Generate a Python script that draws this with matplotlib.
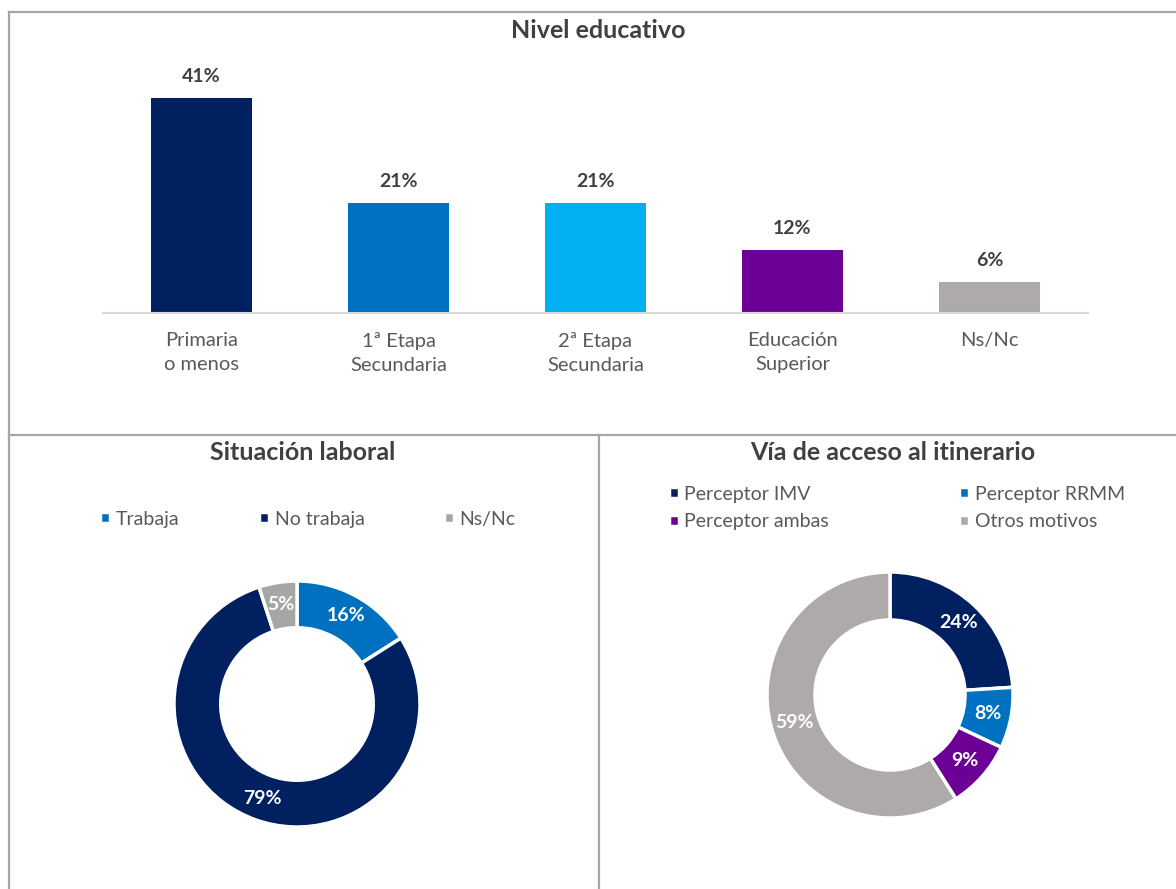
import matplotlib.pyplot as plt
from matplotlib.lines import Line2D

# ------------------------------------------------------------
# Datos
# ------------------------------------------------------------
nivel_cats = ["Primaria\no menos", "1ª Etapa\nSecundaria", "2ª Etapa\nSecundaria",
              "Educación\nSuperior", "Ns/Nc"]
nivel_vals = [41, 21, 21, 12, 6]
nivel_colors = ["#002060", "#0070C0", "#00B0F0", "#6C0096", "#AEAAAA"]

laboral_cats = ["Trabaja", "No trabaja", "Ns/Nc"]
laboral_vals = [16, 79, 5]
laboral_colors = ["#0070C0", "#002060", "#A6A6A6"]

acceso_cats = ["Perceptor IMV", "Perceptor RRMM", "Perceptor ambas", "Otros motivos"]
acceso_vals = [24, 8, 9, 59]
acceso_colors = ["#002060", "#0070C0", "#6C0096", "#AEAAAA"]

W, H = 1176, 889
DARK = "#404040"
GREY = "#595959"
BORDER = "#A6A6A6"

plt.rcParams["font.family"] = ["Lato", "DejaVu Sans"]


def px_box(x0, y0, x1, y1):
    """Caja en píxeles (desde arriba a la izquierda) -> coords de figura."""
    return [x0 / W, 1 - y1 / H, (x1 - x0) / W, (y1 - y0) / H]


def fx(x):
    return x / W


def fy(y):
    return 1 - y / H


def pct(p):
    return f"{round(p)}%"


fig = plt.figure(figsize=(W / 100, H / 100), dpi=100)

# ------------------------------------------------------------
# Marcos
# ------------------------------------------------------------
for (x0, y0, x1, y1) in [(9, 12, W, 12), (9, 12, 9, H), (9, 435, W, 435), (599, 435, 599, H)]:
    fig.add_artist(Line2D([fx(x0), fx(x1)], [fy(y0), fy(y1)], color=BORDER, lw=1.6))

# ------------------------------------------------------------
# Nivel educativo
# ------------------------------------------------------------
ax = fig.add_axes(px_box(103, 40, 1088, 313))
x = range(len(nivel_vals))
bars = ax.bar(x, nivel_vals, width=0.51, color=nivel_colors)
ax.set_xlim(-0.5, len(nivel_vals) - 0.5)
ax.set_ylim(0, 52)
for b, v in zip(bars, nivel_vals):
    ax.annotate(f"{v}%", (b.get_x() + b.get_width() / 2, v), xytext=(0, 9),
                textcoords="offset points", ha="center", va="bottom",
                fontsize=14, fontweight="bold", color=DARK)
ax.set_xticks(list(x))
ax.set_xticklabels(nivel_cats, fontsize=14.5, color=GREY, linespacing=1.5)
ax.tick_params(axis="x", length=0, pad=14)
ax.set_yticks([])
for s in ["top", "left", "right"]:
    ax.spines[s].set_visible(False)
ax.spines["bottom"].set_color("#D9D9D9")
ax.spines["bottom"].set_linewidth(1.5)
fig.text(fx(598), fy(30), "Nivel educativo", ha="center", va="center",
         fontsize=18, fontweight="bold", color=DARK)

# ------------------------------------------------------------
# Situación laboral
# ------------------------------------------------------------
fig.text(fx(303), fy(452), "Situación laboral", ha="center", va="center",
         fontsize=18, fontweight="bold", color=DARK)
ax1 = fig.add_axes(px_box(297 - 123, 704 - 123, 297 + 123, 704 + 123))
w1, t1, a1 = ax1.pie(laboral_vals, colors=laboral_colors, startangle=90, counterclock=False,
                     radius=1, autopct=pct, pctdistance=0.82,
                     wedgeprops=dict(width=0.38, edgecolor="white", linewidth=2.5),
                     textprops=dict(color="white", fontsize=14, fontweight="bold"))
for t in t1:
    t.set_text("")
ax1.set_xlim(-1, 1)
ax1.set_ylim(-1, 1)
ax1.set_aspect("equal")
ax1.axis("off")
fig.legend(w1, laboral_cats, loc="center", bbox_to_anchor=(fx(308), fy(519)), ncol=3,
           frameon=False, fontsize=14, labelcolor=GREY, handlelength=0.5,
           handleheight=0.5, handletextpad=0.3, columnspacing=4.1)

# ------------------------------------------------------------
# Vía de acceso al itinerario
# ------------------------------------------------------------
fig.text(fx(893), fy(452), "Vía de acceso al itinerario", ha="center", va="center",
         fontsize=18, fontweight="bold", color=DARK)
ax2 = fig.add_axes(px_box(890 - 123, 695 - 123, 890 + 123, 695 + 123))
w2, t2, a2 = ax2.pie(acceso_vals, colors=acceso_colors, startangle=90, counterclock=False,
                     radius=1, autopct=pct, pctdistance=0.81,
                     wedgeprops=dict(width=0.39, edgecolor="white", linewidth=2.5),
                     textprops=dict(color="white", fontsize=14, fontweight="bold"))
for t in t2:
    t.set_text("")
ax2.set_xlim(-1, 1)
ax2.set_ylim(-1, 1)
ax2.set_aspect("equal")
ax2.axis("off")
order = [0, 2, 1, 3]  # filas: IMV, RRMM / ambas, Otros
fig.legend([w2[i] for i in order], [acceso_cats[i] for i in order], loc="center",
           bbox_to_anchor=(fx(897), fy(508)), ncol=2, frameon=False, fontsize=14,
           labelcolor=GREY, handlelength=0.5, handleheight=0.5, handletextpad=0.3,
           columnspacing=6.7, labelspacing=0.55)

fig.savefig("out.png", dpi=100)
